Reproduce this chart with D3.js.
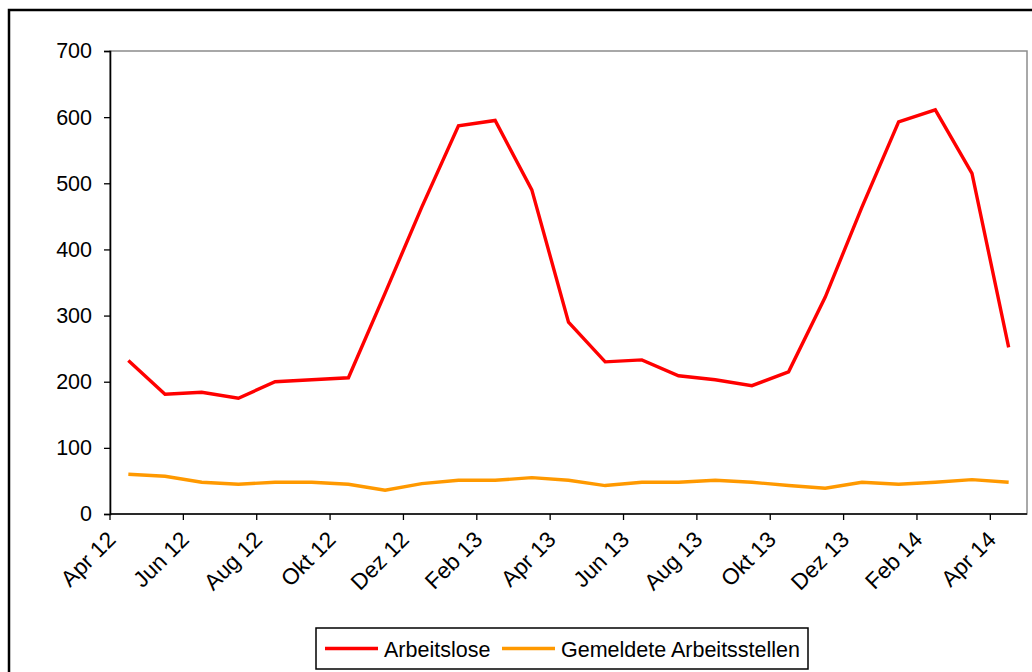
<!DOCTYPE html>
<html>
<head>
<meta charset="utf-8">
<script src="https://cdn.jsdelivr.net/npm/d3@7"></script>
<style>
  html, body { margin: 0; padding: 0; background: #fff; }
  svg { display: block; font-family: "Liberation Sans", Arial, sans-serif; }
</style>
</head>
<body>
<svg id="chart" width="1032" height="672"></svg>
<script>
// Monthly categories, April 2012 – April 2014
const months = [
  "Apr 12","Mai 12","Jun 12","Jul 12","Aug 12","Sep 12","Okt 12","Nov 12","Dez 12",
  "Jan 13","Feb 13","Mär 13","Apr 13","Mai 13","Jun 13","Jul 13","Aug 13","Sep 13",
  "Okt 13","Nov 13","Dez 13","Jan 14","Feb 14","Mär 14","Apr 14"
];
// Arbeitslose
const arbeitslose = [
  232, 181, 184, 175, 200, 203, 206, 334, 464,
  587, 595, 490, 290, 230, 233, 209, 203, 194,
  215, 328, 464, 593, 611, 515, 252
];
// Gemeldete Arbeitsstellen
const stellen = [
  60, 57, 48, 45, 48, 48, 45, 36, 46,
  51, 51, 55, 51, 43, 48, 48, 51, 48,
  43, 39, 48, 45, 48, 52, 48
];
const yTicks = [0, 100, 200, 300, 400, 500, 600, 700];
const seriesNames = ["Arbeitslose", "Gemeldete Arbeitsstellen"];
const seriesColors = ["#ff0000", "#ff9900"];

const FONT = 21.5;
const XFONT = 22.5;
const svg = d3.select("#chart");
const plot = { left: 110, top: 51, right: 1027, bottom: 514 };

// Outer chart frame (extends past the visible window on the right and bottom)
svg.append("rect")
  .attr("x", 9).attr("y", 10)
  .attr("width", 1060).attr("height", 700)
  .attr("fill", "none").attr("stroke", "#000").attr("stroke-width", 2.5);

const x = d3.scaleBand().domain(months).range([plot.left, plot.right]).paddingInner(0).paddingOuter(0);
const y = d3.scaleLinear().domain([0, 700]).range([plot.bottom, plot.top]);

// Plot area border (grey top / right)
svg.append("rect")
  .attr("x", plot.left).attr("y", plot.top)
  .attr("width", plot.right - plot.left).attr("height", plot.bottom - plot.top)
  .attr("fill", "none").attr("stroke", "#8c8c8c").attr("stroke-width", 1.5);

// Y axis
const yAxis = svg.append("g")
  .attr("transform", `translate(${plot.left},0)`)
  .call(d3.axisLeft(y).tickValues(yTicks).tickSize(6).tickPadding(12));
yAxis.select(".domain").attr("stroke", "#000").attr("stroke-width", 1.6);
yAxis.selectAll(".tick line").attr("stroke", "#000").attr("stroke-width", 1.3);
yAxis.selectAll(".tick text")
  .attr("font-size", FONT).attr("fill", "#000")
  .attr("font-family", "Liberation Sans, Arial, sans-serif");

// X axis: ticks between categories, a label on every second boundary
const boundaries = months.filter((m, i) => i % 2 === 0);
const xAxisG = svg.append("g");
xAxisG.append("line")
  .attr("x1", plot.left).attr("x2", plot.right)
  .attr("y1", plot.bottom).attr("y2", plot.bottom)
  .attr("stroke", "#000").attr("stroke-width", 1.6);
const xt = xAxisG.selectAll("g.xtick").data(boundaries).enter().append("g")
  .attr("class", "xtick")
  .attr("transform", d => `translate(${x(d)},${plot.bottom})`);
xt.append("line").attr("y1", 0).attr("y2", 6).attr("stroke", "#000").attr("stroke-width", 1.3);
xt.append("text")
  .attr("transform", "translate(7,27) rotate(-45)")
  .attr("text-anchor", "end")
  .attr("font-size", XFONT)
  .attr("fill", "#000")
  .text(d => d);

// Series lines
const line = d3.line()
  .x((d, i) => x(months[i]) + x.bandwidth() / 2)
  .y(d => y(d));
[arbeitslose, stellen].forEach((vals, k) => {
  svg.append("path")
    .datum(vals)
    .attr("fill", "none")
    .attr("stroke", seriesColors[k])
    .attr("stroke-width", 3.4)
    .attr("stroke-linejoin", "miter")
    .attr("d", line);
});

// Legend
const legend = svg.append("g");
legend.append("rect")
  .attr("x", 316).attr("y", 628).attr("width", 492).attr("height", 41)
  .attr("fill", "#fff").attr("stroke", "#000").attr("stroke-width", 1.5);
const legendItems = [
  { name: seriesNames[0], color: seriesColors[0], x: 325 },
  { name: seriesNames[1], color: seriesColors[1], x: 502 }
];
legendItems.forEach(it => {
  legend.append("line")
    .attr("x1", it.x).attr("x2", it.x + 53)
    .attr("y1", 648.5).attr("y2", 648.5)
    .attr("stroke", it.color).attr("stroke-width", 3.4);
  legend.append("text")
    .attr("x", it.x + 59).attr("y", 657)
    .attr("font-size", FONT).attr("fill", "#000")
    .text(it.name);
});
</script>
</body>
</html>
